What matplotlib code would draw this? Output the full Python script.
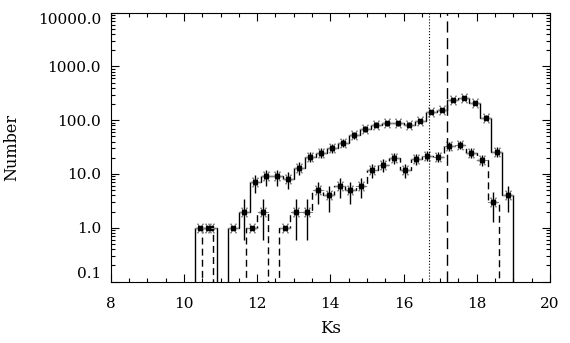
import numpy as np
import matplotlib
matplotlib.use('Agg')
import matplotlib.pyplot as plt
from matplotlib.ticker import LogLocator, MultipleLocator, NullFormatter

# full sample: bin centres, counts and errors
ks_all = [10.45, 10.75, 11.05, 11.35, 11.65, 11.95, 12.25, 12.55, 12.85, 13.15,
          13.45, 13.75, 14.05, 14.35, 14.65, 14.95, 15.25, 15.55, 15.85, 16.15,
          16.45, 16.75, 17.05, 17.35, 17.65, 17.95, 18.25, 18.55, 18.85]
n_all = [1, 1, 0, 1, 2, 7, 9, 9, 8, 13,
         21, 25, 30, 38, 53, 70, 83, 87, 89, 83,
         97, 140, 158, 236, 261, 210, 112, 26, 4]
err_all = [1.0, 1.0, 0.0, 1.0, 1.4, 2.6, 3.0, 3.0, 2.8, 3.6,
           4.6, 5.0, 5.5, 6.2, 7.3, 8.4, 9.1, 9.3, 9.4, 9.1,
           9.8, 11.8, 12.6, 15.4, 16.2, 14.5, 10.6, 5.1, 2.0]

# sub-sample (dashed)
ks_sub = [10.65, 10.95, 11.25, 11.55, 11.85, 12.15, 12.45, 12.75, 13.05, 13.35,
          13.65, 13.95, 14.25, 14.55, 14.85, 15.15, 15.45, 15.75, 16.05, 16.35,
          16.65, 16.95, 17.25, 17.55, 17.85, 18.15, 18.45]
n_sub = [1, 0, 0, 0, 1, 2, 0, 1, 2, 2,
         5, 4, 6, 5, 6, 12, 15, 20, 12, 19,
         22, 21, 33, 35, 25, 18, 3]
err_sub = [1.0, 0.0, 0.0, 0.0, 1.0, 1.4, 0.0, 1.0, 1.4, 1.4,
           2.2, 2.0, 2.4, 2.2, 2.4, 3.5, 3.9, 4.5, 3.5, 4.4,
           4.7, 4.6, 5.7, 5.9, 5.0, 4.2, 1.7]

bin_width = 0.3
ks_limits = [16.7, 17.2]

ytick_vals = [0.1, 1, 10, 100, 1000, 10000]
ytick_labels = ['0.1', '1.0', '10.0', '100.0', '1000.0', '10000.0']

plt.rcParams['font.family'] = 'DejaVu Serif'

floor = 1e-3  # empty bins drop below the axis


def draw_hist(ax, centers, counts, errs, ls):
    centers = np.asarray(centers)
    counts = np.asarray(counts, dtype=float)
    errs = np.asarray(errs, dtype=float)
    edges = np.append(centers - bin_width / 2, centers[-1] + bin_width / 2)
    ax.stairs(np.where(counts > 0, counts, floor), edges, baseline=floor,
              color='k', lw=1.0, linestyle=ls)
    show = counts > 0
    bars = show & (counts - errs > 0)
    ax.vlines(centers[bars], counts[bars] - errs[bars], counts[bars] + errs[bars],
              color='k', lw=1.0)
    ax.plot(centers[show], counts[show], ls='none', marker=(6, 2, 90), ms=8,
            mec='0.5', mew=0.7)
    ax.plot(centers[show], counts[show], ls='none', marker='s', ms=2.2, color='k')


fig = plt.figure(figsize=(5.7, 3.43), dpi=100)
ax = fig.add_axes([110.7 / 570, 1 - 281.5 / 343, (550 - 110.7) / 570, (281.5 - 12.7) / 343])

draw_hist(ax, ks_all, n_all, err_all, '-')
draw_hist(ax, ks_sub, n_sub, err_sub, (0, (5, 3)))

ax.axvline(ks_limits[0], color='k', lw=0.8, ls=':')
ax.axvline(ks_limits[1], color='k', lw=1.0, ls=(0, (8, 4)))

ax.set_yscale('log')
ax.set_xlim(8, 20)
ax.set_ylim(0.1, 10000)
ax.set_yticks(ytick_vals)
ax.set_yticklabels(ytick_labels)
ax.yaxis.set_minor_locator(LogLocator(base=10, subs=np.arange(2, 10)))
ax.yaxis.set_minor_formatter(NullFormatter())
ax.set_xticks(np.arange(8, 21, 2))
ax.xaxis.set_minor_locator(MultipleLocator(0.5))

ax.tick_params(which='both', direction='in', top=True, right=True, labelsize=11, width=0.8)
ax.tick_params(which='major', length=6)
ax.tick_params(which='minor', length=3)
ax.tick_params(axis='x', pad=11)
ax.tick_params(axis='y', pad=7)
for s in ax.spines.values():
    s.set_linewidth(0.8)

# end labels sit inside the axis range
ax.yaxis.get_major_ticks()[-1].label1.set_verticalalignment('top')
ax.yaxis.get_major_ticks()[0].label1.set_verticalalignment('bottom')

ax.set_xlabel('Ks', fontsize=12)
ax.set_ylabel('Number', fontsize=11.5)
ax.xaxis.set_label_coords(0.5, -0.143)
ax.yaxis.set_label_coords(-0.205, 0.5)

fig.savefig('out.png', dpi=100)
